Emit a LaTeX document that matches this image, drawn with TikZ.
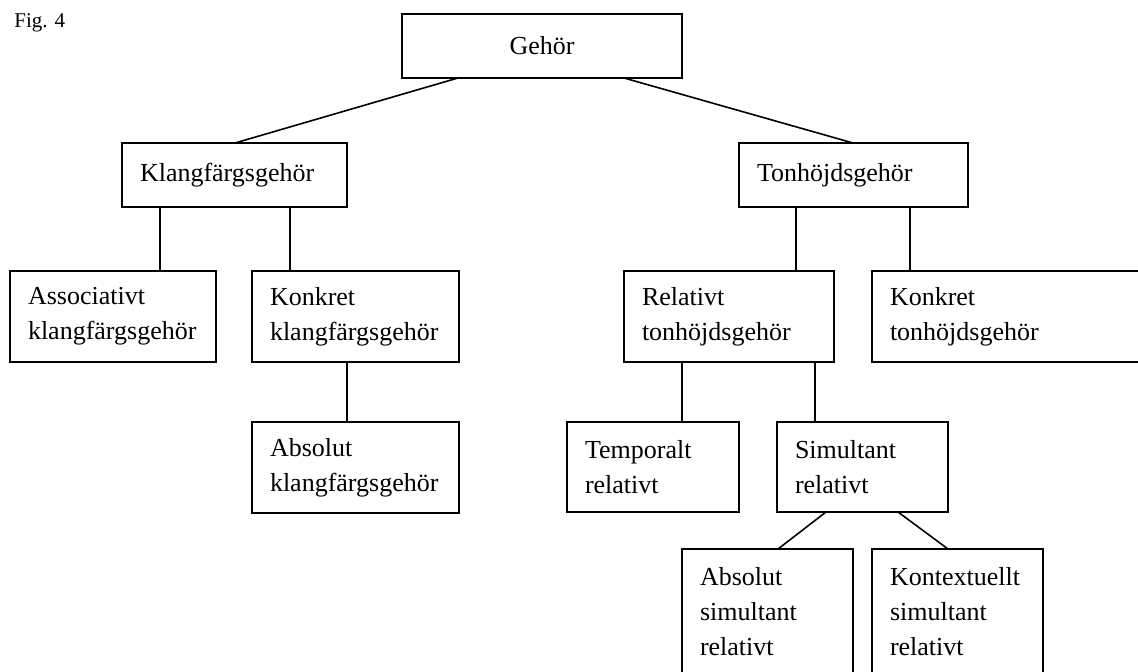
\documentclass[tikz,border=0pt]{standalone}
\usepackage{fontspec}
\setmainfont{Liberation Serif}
\usetikzlibrary{calc}
\tikzset{
  box/.style={draw, line width=0.9pt, outer sep=0pt, inner xsep=9pt, inner ysep=0pt,
    align=left, anchor=north west, font=\fontsize{13}{17.5}\selectfont},
  conn/.style={line width=0.8pt},
}
\begin{document}
\begin{tikzpicture}[x=0.5pt,y=-0.5pt]
\useasboundingbox (0,0) rectangle (1138,672);
\clip (0,0) rectangle (1138,672);
\node[anchor=base west, inner sep=0pt, font=\fontsize{10.5}{12}\selectfont] (fig) at (14,28) {Fig. 4};
\node[box, align=center, text width=122pt, minimum width=140pt, minimum height=32pt] (gehor) at (402,14) {Gehör};
\node[box, text width=94.5pt, minimum width=112.5pt, minimum height=32pt] (klang) at (122,143) {Klangfärgsgehör};
\node[box, text width=96.5pt, minimum width=114.5pt, minimum height=32pt] (tonh) at (739,143) {Tonhöjdsgehör};
\node[box, text width=85pt, minimum width=103pt, minimum height=45.5pt] (assoc) at (10,271) {Associativt\\klangfärgsgehör};
\node[box, text width=85.5pt, minimum width=103.5pt, minimum height=45.5pt] (konkk) at (252,271) {Konkret\\klangfärgsgehör};
\node[box, text width=85.5pt, minimum width=103.5pt, minimum height=45.5pt] (absk) at (252,422) {Absolut\\klangfärgsgehör};
\node[box, text width=87pt, minimum width=105pt, minimum height=45.5pt] (rel) at (624,271) {Relativt\\tonhöjdsgehör};
\node[box, text width=122pt, minimum width=140pt, minimum height=45.5pt] (konkt) at (872,271) {Konkret\\tonhöjdsgehör};
\node[box, text width=68pt, minimum width=86pt, minimum height=45pt] (temp) at (567,422) {Temporalt\\relativt};
\node[box, text width=67.5pt, minimum width=85.5pt, minimum height=45pt] (sim) at (777,422) {Simultant\\relativt};
\node[box, text width=67.5pt, minimum width=85.5pt, minimum height=63pt] (abss) at (682,549) {Absolut\\simultant\\relativt};
\node[box, text width=67.5pt, minimum width=85.5pt, minimum height=63pt] (kont) at (872,549) {Kontextuellt\\simultant\\relativt};
\draw[conn] ([xshift=28pt]gehor.south west) -- ([xshift=56.5pt]klang.north west);
\draw[conn] ([xshift=111pt]gehor.south west) -- ([xshift=57pt]tonh.north west);
\draw[conn] ([xshift=19pt]klang.south west) -- ([xshift=19pt]klang.south west |- assoc.north);
\draw[conn] ([xshift=84pt]klang.south west) -- ([xshift=84pt]klang.south west |- konkk.north);
\draw[conn] ([xshift=47.5pt]konkk.south west) -- ([xshift=47.5pt]konkk.south west |- absk.north);
\draw[conn] ([xshift=28.5pt]tonh.south west) -- ([xshift=28.5pt]tonh.south west |- rel.north);
\draw[conn] ([xshift=85.5pt]tonh.south west) -- ([xshift=85.5pt]tonh.south west |- konkt.north);
\draw[conn] ([xshift=29pt]rel.south west) -- ([xshift=29pt]rel.south west |- temp.north);
\draw[conn] ([xshift=95.5pt]rel.south west) -- ([xshift=95.5pt]rel.south west |- sim.north);
\draw[conn] ([xshift=24.5pt]sim.south west) -- ([xshift=48pt]abss.north west);
\draw[conn] ([xshift=60.5pt]sim.south west) -- ([xshift=38pt]kont.north west);
\end{tikzpicture}
\end{document}
